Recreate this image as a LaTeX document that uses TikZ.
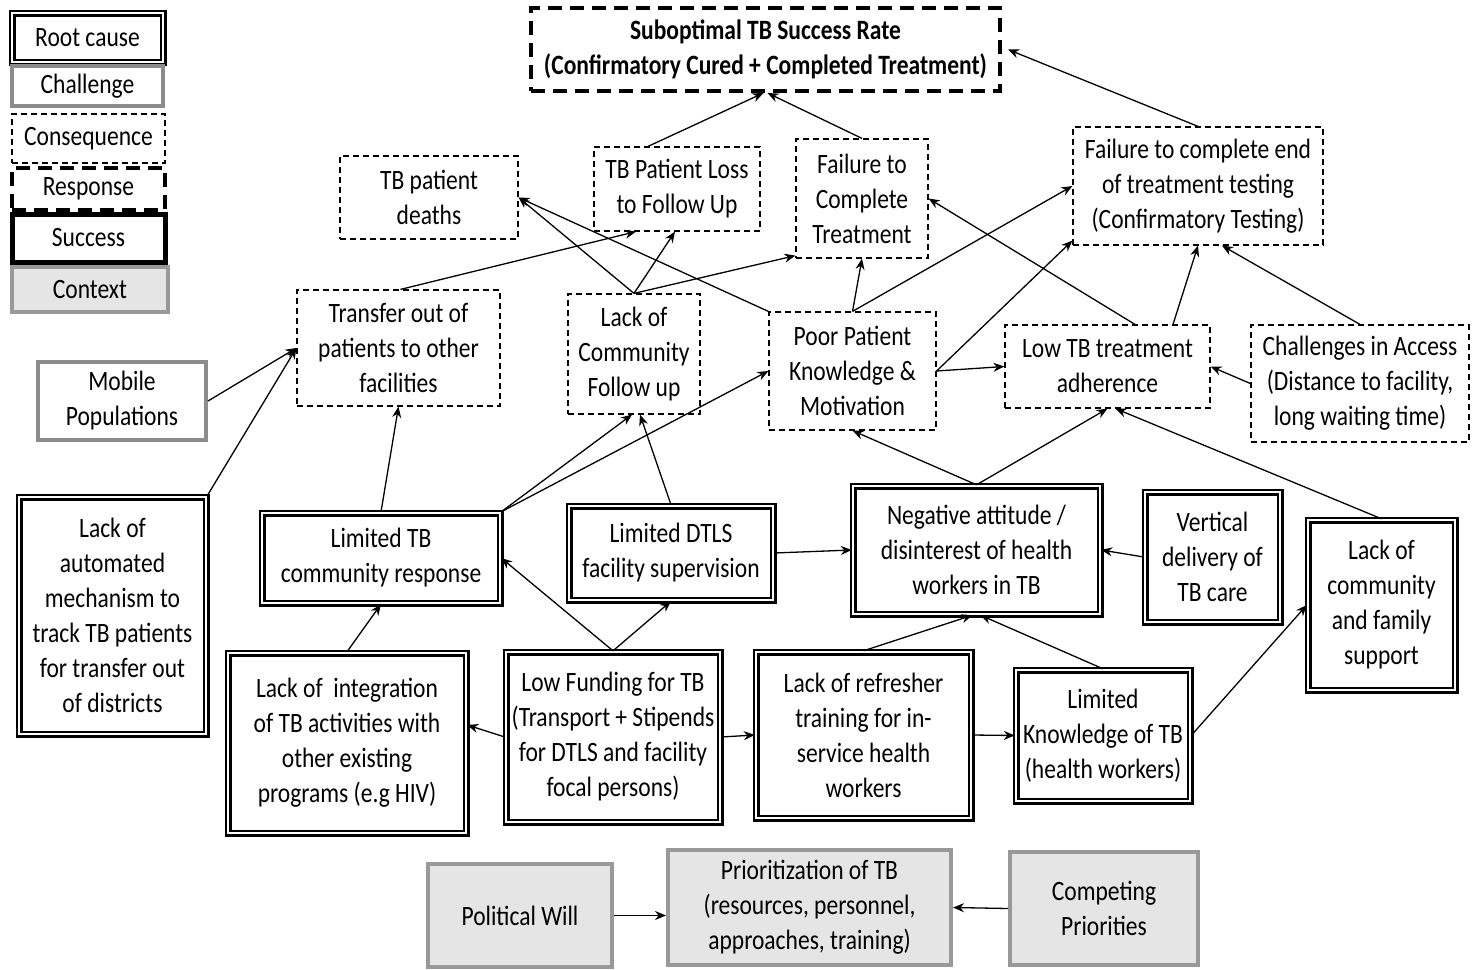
\documentclass[tikz,border=0pt]{standalone}
\usepackage{fontspec}
\setmainfont{Carlito}[FakeStretch=0.84]
\usetikzlibrary{arrows.meta,calc}
\newcommand\bx[7]{\node[#6, minimum width={(#4-#2)*0.5pt}, minimum height={(#5-#3)*0.5pt}] (#1) at ({(#2+#4)/2},{(#3+#5)/2}) {#7};}
\begin{document}
\begin{tikzpicture}[x=0.5pt,y=-0.5pt, font=\fontsize{14}{17.5}\selectfont]
\tikzset{
 base/.style={align=center, inner sep=0pt, text=black},
 rootc/.style={base, draw=black, line width=1.2pt, double=white, double distance=1.1pt},
 chal/.style={base, draw=black!45, line width=2pt},
 cons/.style={base, draw=black, line width=0.6pt, dash pattern=on 3pt off 2pt},
 resp/.style={base, draw=black, line width=2pt, dash pattern=on 7pt off 4pt},
 succ/.style={base, draw=black, line width=2.5pt},
 ctx/.style={base, draw=black!40, fill=black!10, line width=2pt},
 arr/.style={-{Stealth[length=5.5pt,width=4.5pt]}, line width=0.65pt},
}
\useasboundingbox (0,0) rectangle (1472,969);
% legend
\bx{lroot}{12}{13}{163}{62}{rootc}{Root cause}
\bx{lchal}{12}{66}{163}{106}{chal}{Challenge}
\bx{lcons}{12}{114}{165}{163}{cons}{Consequence}
\bx{lresp}{12}{168}{165}{210}{resp}{Response}
\bx{lsucc}{12}{214}{165}{262}{succ}{Success}
\bx{lctx}{12}{267}{168}{312}{ctx}{Context}
% nodes
\bx{sub}{531}{8}{1000}{91}{resp}{\textbf{Suboptimal TB Success Rate}\\\textbf{(Confirmatory Cured + Completed Treatment)}}
\bx{deaths}{340}{156}{518}{239}{cons}{TB patient\\deaths}
\bx{loss}{594}{147}{760}{231}{cons}{TB Patient Loss\\to Follow Up}
\bx{fct}{796}{139}{928}{258}{cons}{Failure to\\Complete\\Treatment}
\bx{fet}{1073}{127}{1323}{245}{cons}{Failure to complete end\\of treatment testing\\(Confirmatory Testing)}
\bx{transfer}{297}{290}{500}{406}{cons}{Transfer out of\\patients to other\\facilities}
\bx{lcf}{568}{294}{700}{414}{cons}{Lack of\\Community\\Follow up}
\bx{ppk}{769}{312}{936}{430}{cons}{Poor Patient\\Knowledge \&\\Motivation}
\bx{ltb}{1005}{325}{1210}{408}{cons}{Low TB treatment\\adherence}
\bx{cia}{1251}{325}{1469}{442}{cons}{Challenges in Access\\(Distance to facility,\\long waiting time)}
\bx{mobile}{38}{362}{206}{440}{chal}{Mobile\\Populations}
\bx{auto}{19}{497}{206}{734}{rootc}{Lack of\\automated\\mechanism to\\track TB patients\\for transfer out\\of districts}
\bx{ltcr}{262}{513}{500}{603}{rootc}{Limited TB\\community response}
\bx{dtls}{569}{506}{773}{600}{rootc}{Limited DTLS\\facility supervision}
\bx{neg}{853}{486}{1100}{614}{rootc}{Negative attitude /\\disinterest of health\\workers in TB}
\bx{vert}{1145}{492}{1280}{622}{rootc}{Vertical\\delivery of\\TB care}
\bx{lcfs}{1308}{520}{1455}{690}{rootc}{Lack of\\community\\and family\\support}
\bx{integ}{228}{653}{466}{833}{rootc}{Lack of\ \ integration\\of TB activities with\\other existing\\programs (e.g HIV)}
\bx{fund}{506}{652}{720}{822}{rootc}{Low Funding for TB\\(Transport + Stipends\\for DTLS and facility\\focal persons)}
\bx{refr}{756}{652}{971}{818}{rootc}{Lack of refresher\\training for in-\\service health\\workers}
\bx{lkt}{1016}{670}{1190}{801}{rootc}{Limited\\Knowledge of TB\\(health workers)}
\bx{pol}{428}{864}{612}{967}{ctx}{Political Will}
\bx{prio}{668}{850}{951}{965}{ctx}{Prioritization of TB\\(resources, personnel,\\approaches, training)}
\bx{comp}{1010}{852}{1198}{965}{ctx}{Competing\\Priorities}
% connectors
\draw[arr] ([xshift=-14.5pt]loss.north) -- ([xshift=-1pt]sub.south);
\draw[arr] (fct.north) -- ([xshift=1pt]sub.south);
\draw[arr] (fet.north) -- ([xshift=3pt]sub.east);
\draw[arr] ([xshift=1pt]transfer.north) -- ([xshift=-20.5pt]loss.south);
\draw[arr] (lcf.north) -- ([xshift=-1pt]loss.south);
\draw[arr] (lcf.north) -- (deaths.east);
\draw[arr] (ppk.north west) -- (deaths.east);
\draw[arr] (lcf.north) -- ([yshift=1.5pt]fct.south west);
\draw[arr] (ppk.north) -- (fct.south);
\draw[arr] (ppk.north) -- (fet.west);
\draw[arr] (ppk.east) -- ([yshift=2.5pt]fet.south west);
\draw[arr] (ppk.east) -- (ltb.west);
\draw[arr] ([xshift=13.75pt]ltb.north) -- (fct.east);
\draw[arr] ([xshift=32.75pt]ltb.north) -- (fet.south);
\draw[arr] (cia.north) -- ([xshift=12pt]fet.south);
\draw[arr] (cia.west) -- (ltb.east);
\draw[arr] (mobile.east) -- (transfer.west);
\draw[arr] (auto.north east) -- (transfer.west);
\draw[arr] (ltcr.north) -- (transfer.south);
\draw[arr] (ltcr.north east) -- ([xshift=-1pt]lcf.south);
\draw[arr] (ltcr.north east) -- (ppk.west);
\draw[arr] (dtls.north) -- ([xshift=3pt]lcf.south);
\draw[arr] (dtls.east) -- (neg.west);
\draw[arr] (neg.north) -- (ppk.south);
\draw[arr] (neg.north) -- (ltb.south);
\draw[arr] (lcfs.north) -- ([xshift=4pt]ltb.south);
\draw[arr] (vert.west) -- (neg.east);
\draw[arr] (fund.north) -- (ltcr.east);
\draw[arr] (fund.north) -- (dtls.south);
\draw[arr] (fund.west) -- ([yshift=9pt]integ.east);
\draw[arr] (fund.east) -- (refr.west);
\draw[arr] (integ.north) -- (ltcr.south);
\draw[arr] (refr.north) -- ([xshift=-2pt]neg.south);
\draw[arr] (lkt.north) -- ([xshift=2pt]neg.south);
\draw[arr] (refr.east) -- (lkt.west);
\draw[arr] (lkt.east) -- (lcfs.west);
\draw[arr] (pol.east) -- (pol.east -| prio.west);
\draw[arr] (comp.west) -- (prio.east);
\end{tikzpicture}
\end{document}
